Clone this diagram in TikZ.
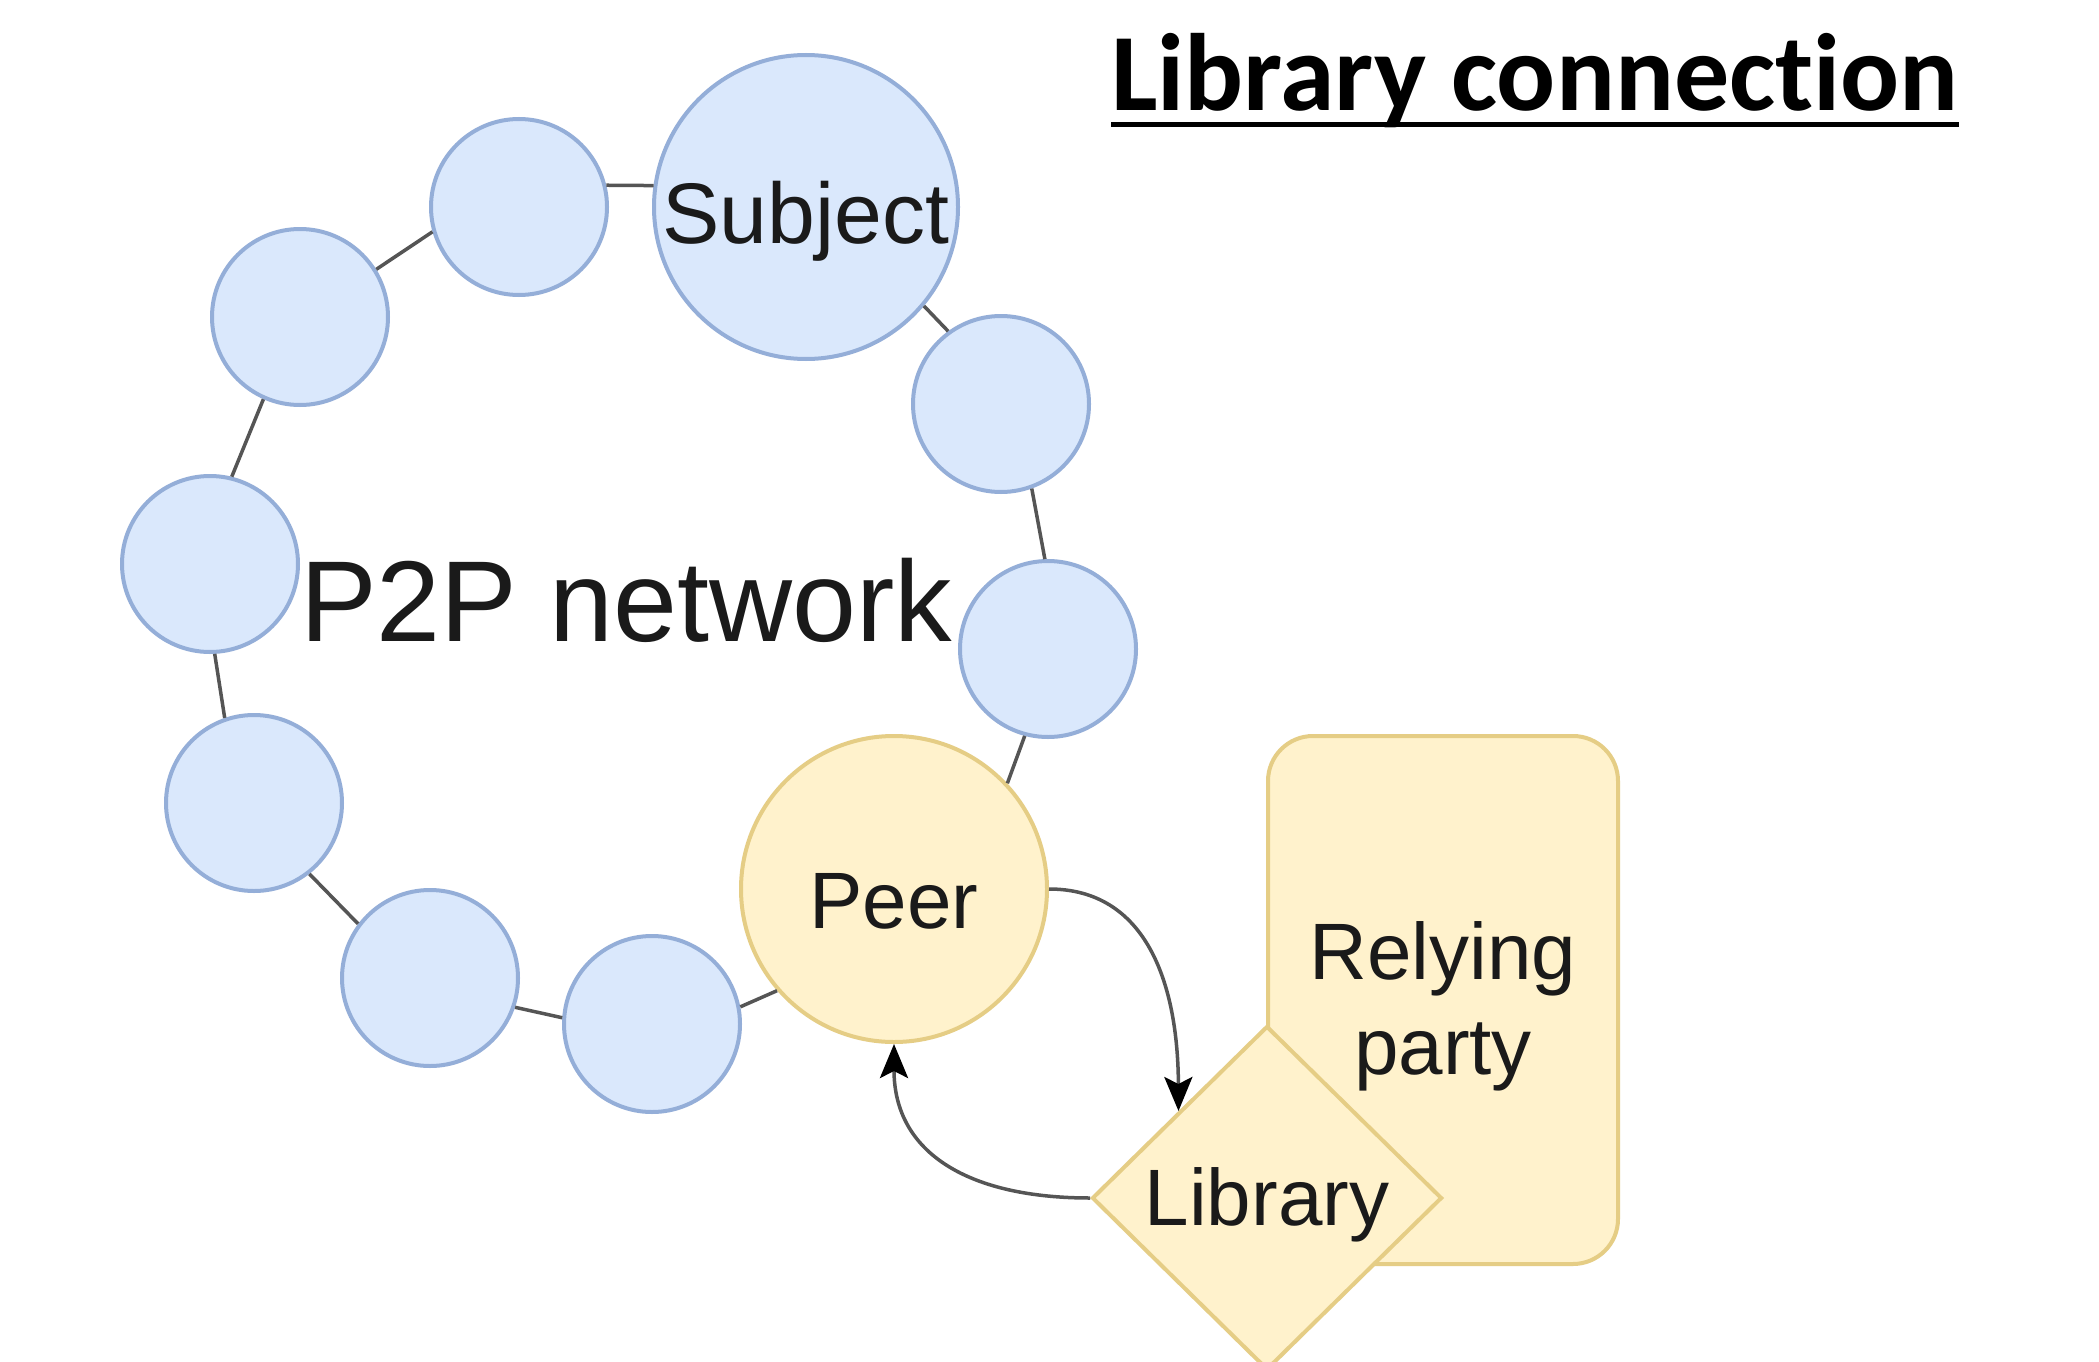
\documentclass[tikz,border=0pt]{standalone}
\usepackage{fontspec}
\setmainfont{Liberation Sans}
\newfontfamily\titlefont[Ligatures=NoCommon]{Carlito}
\usetikzlibrary{arrows.meta,shapes.geometric}
\definecolor{bluefill}{HTML}{DAE8FC}
\definecolor{bluedraw}{HTML}{94AED8}
\definecolor{yelfill}{HTML}{FFF2CC}
\definecolor{yeldraw}{HTML}{E5CD85}
\definecolor{linkgray}{HTML}{555555}
\definecolor{textdark}{HTML}{1A1A1A}
\begin{document}
\begin{tikzpicture}[x=1pt,y=-1pt,
  bluenode/.style={circle, draw=bluedraw, fill=bluefill, line width=4pt, minimum size=176pt, inner sep=0pt},
  subjnode/.style={bluenode, minimum size=304pt},
  yelnode/.style={draw=yeldraw, fill=yelfill, line width=4pt, inner sep=0pt},
  lbl/.style={font=\fontsize{80}{95}\selectfont, text=textdark},
  link/.style={draw=linkgray, line width=3.5pt},
  flow/.style={draw=linkgray, line width=3.5pt, -{Stealth[length=34pt,width=28pt,inset=7pt,color=black]}}]
\useasboundingbox[clip] (0,0) rectangle (2099,1362);
\fill[white] (0,0) rectangle (2099,1362);

% title
\node[anchor=base west, inner sep=0pt, font=\titlefont\bfseries\fontsize{110}{125}\selectfont] (title) at (1111,111) {Library connection};
\draw[line width=5pt] ([yshift=-13.5pt]title.base west) -- ([yshift=-13.5pt]title.base east);

% P2P ring
\node[subjnode, lbl, font=\fontsize{86}{100}\selectfont, text height=72pt, text depth=0pt] (subj) at (806,207) {Subject};
\node[bluenode] (a) at (519,207) {};
\node[bluenode] (b) at (300,317) {};
\node[bluenode] (c) at (210,564) {};
\node[bluenode] (d) at (254,803) {};
\node[bluenode] (e) at (430,978) {};
\node[bluenode] (f) at (652,1024) {};
\node[bluenode] (g) at (1001,404) {};
\node[bluenode] (h) at (1048,649) {};
\node[yelnode, circle, minimum size=306pt, lbl, text height=78pt, text depth=0pt] (peer) at (894,889) {Peer};

\node[anchor=base, inner sep=0pt, font=\fontsize{115}{130}\selectfont, text=textdark] (p2p) at (626,641) {P2P network};

\draw[link] (a.14) -- (subj.172);
\draw[link] (b.32) -- (a.196);
\draw[link] (b.246) -- (c.76);
\draw[link] (c.273) -- (d.109);
\draw[link] (d.308) -- (e.143);
\draw[link] (e.341) -- (f.176);
\draw[link] (f.11) -- (peer.221);
\draw[link] (peer.43) -- (h.255);
\draw[link] (g.290) -- (h.92);
\draw[link] (subj.320) -- (g.126);

% relying party and library
\node[yelnode, rectangle, rounded corners=45pt, minimum width=350pt, minimum height=528pt, lbl, align=center, text height=165pt, text depth=17pt] (rp) at (1443,1000) {Relying\\party};
\node[yelnode, diamond, minimum width=350pt, minimum height=344pt, lbl, text height=55pt, text depth=0pt] (lib) at (1267,1198) {Library};

\draw[flow] (peer.east) .. controls (1145,889) and (1178,981) .. (lib.north west);
\draw[flow] (lib.west) .. controls (970,1198) and (894,1154) .. (peer.south);
\end{tikzpicture}
\end{document}
